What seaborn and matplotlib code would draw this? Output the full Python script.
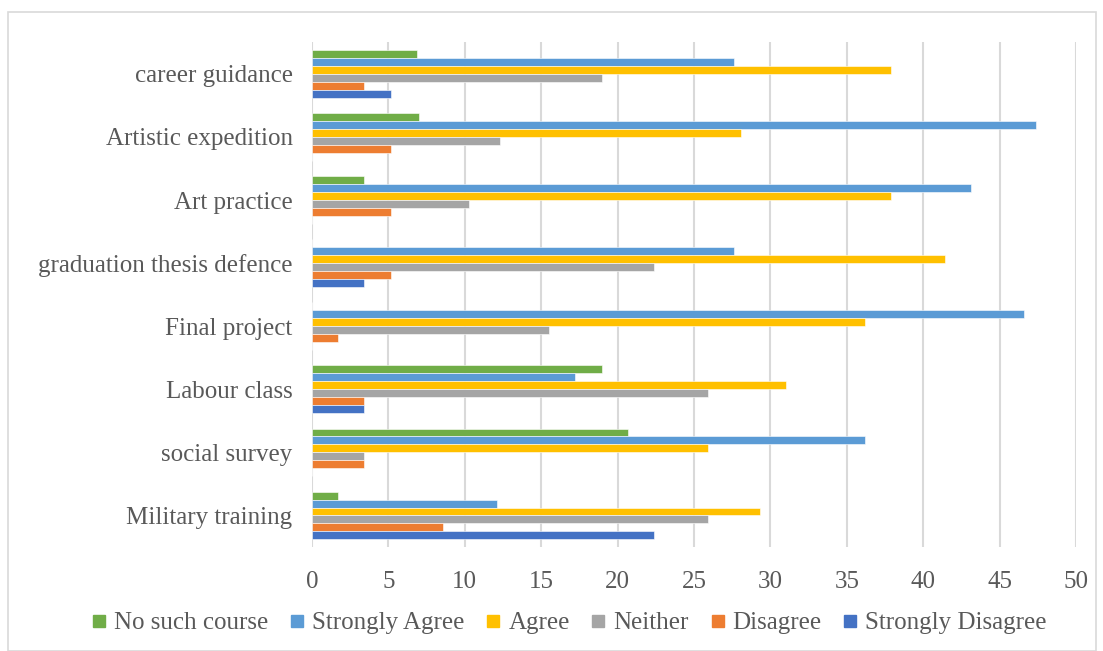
import matplotlib
matplotlib.use("Agg")
import matplotlib.pyplot as plt
from matplotlib.lines import Line2D
from matplotlib.patches import Rectangle
import seaborn as sns
import pandas as pd

categories = ["career guidance", "Artistic expedition", "Art practice",
              "graduation thesis defence", "Final project", "Labour class",
              "social survey", "Military training"]
series = ["No such course", "Strongly Agree", "Agree", "Neither", "Disagree", "Strongly Disagree"]

no_such_course = [6.9, 7.0, 3.4, 0, 0, 19.0, 20.7, 1.7]
strongly_agree = [27.6, 47.4, 43.1, 27.6, 46.6, 17.2, 36.2, 12.1]
agree = [37.9, 28.1, 37.9, 41.4, 36.2, 31.0, 25.9, 29.3]
neither = [19.0, 12.3, 10.3, 22.4, 15.5, 25.9, 3.4, 25.9]
disagree = [3.4, 5.2, 5.2, 5.2, 1.7, 3.4, 3.4, 8.6]
strongly_disagree = [5.2, 0, 0, 3.4, 0, 3.4, 0, 22.4]

colors = ["#70AD47", "#5B9BD5", "#FFC000", "#A5A5A5", "#ED7D31", "#4472C4"]

values = [no_such_course, strongly_agree, agree, neither, disagree, strongly_disagree]
rows = []
for s, vals in zip(series, values):
    for c, v in zip(categories, vals):
        rows.append({"category": c, "series": s, "value": v})
df = pd.DataFrame(rows)

sns.set_theme(style="white")
plt.rcParams["font.family"] = ["Liberation Serif", "DejaVu Serif"]
text_color = "#595959"

fig = plt.figure(figsize=(11.03, 6.51), dpi=100)
ax = fig.add_axes([312 / 1103, 1 - 547 / 651, (1076 - 312) / 1103, (547 - 42.3) / 651])

sns.barplot(data=df, x="value", y="category", hue="series", order=categories,
            hue_order=series, palette=colors, saturation=1, orient="h",
            width=0.756, gap=0, edgecolor="white", linewidth=0.4,
            legend=False, ax=ax, zorder=3)

ax.set_xlim(0, 50)
ax.set_ylim(7.5, -0.5)
ax.set_xticks(range(0, 51, 5))
ax.set_xlabel("")
ax.set_ylabel("")
ax.grid(axis="x", color="#D9D9D9", linewidth=1.5, zorder=0)
ax.grid(axis="y", visible=False)
for sp in ax.spines.values():
    sp.set_visible(False)
ax.tick_params(axis="both", length=0, labelsize=18, colors=text_color)
ax.tick_params(axis="x", pad=17)
ax.tick_params(axis="y", pad=14)

handles = [Line2D([0], [0], marker="s", linestyle="", markersize=8,
                  markerfacecolor=c, markeredgecolor=c) for c in colors]
fig.legend(handles, series, loc="center", bbox_to_anchor=(0.515, 1 - 623 / 651),
           ncol=6, frameon=False, fontsize=18, handletextpad=0.2,
           columnspacing=0.75, labelcolor=text_color, handlelength=0.8)

fig.patches.append(Rectangle((8 / 1103, 0), (1096 - 8) / 1103, 1 - 12 / 651,
                             transform=fig.transFigure, fill=False,
                             edgecolor="#D9D9D9", linewidth=1.2))

fig.savefig("out.png", dpi=100)
